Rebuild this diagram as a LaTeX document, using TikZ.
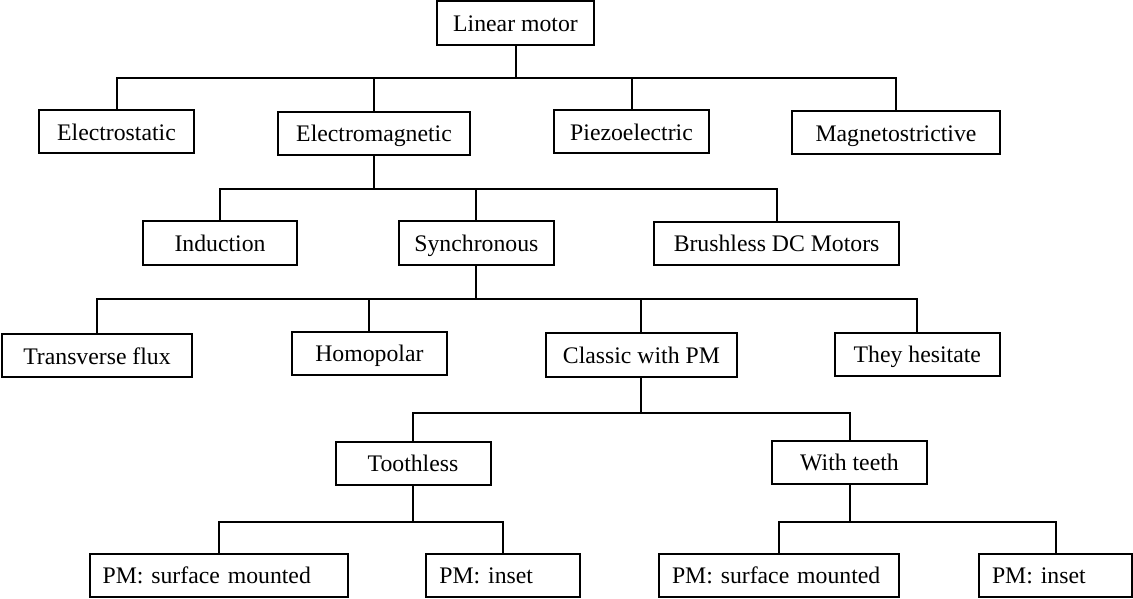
\documentclass[tikz,border=0pt]{standalone}
\usepackage{fontspec}
\setmainfont{Liberation Serif}
\usepackage{tikz}
\usetikzlibrary{calc}

\begin{document}
\begin{tikzpicture}[x=0.75pt,y=-0.75pt,line width=1.5pt,
  box/.style={draw,minimum width=#1*0.75pt,minimum height=32.3pt,inner sep=0pt,
    text height=15pt,text depth=2pt,font=\fontsize{17.8}{20}\selectfont},
  pmbox/.style={box=#1,align=left}]
\useasboundingbox (0,0) rectangle (1133,599);
\coordinate (B1) at (0,78);
\coordinate (B2) at (0,189);
\coordinate (B3) at (0,299);
\coordinate (B4) at (0,412.7);
\coordinate (B5) at (0,521.7);
% boxes
\node[box=157] (lin) at (515.5,23) {Linear motor};
\node[box=155] (estat) at (116.5,131.5) {Electrostatic};
\node[box=192] (emag) at (374,133.3) {Electromagnetic};
\node[box=155] (piezo) at (631.5,131.5) {Piezoelectric};
\node[box=208] (mstr) at (896,132.5) {Magnetostrictive};
\node[box=154.5] (ind) at (220,243) {Induction};
\node[box=155.6] (sync) at (476.4,243) {Synchronous};
\node[box=244.5] (bldc) at (776.6,243.3) {Brushless DC Motors};
\node[box=190.6] (tflux) at (97,355.7) {Transverse flux};
\node[box=155.3] (homo) at (369.4,353.3) {Homopolar};
\node[box=191] (cpm) at (641.4,355) {Classic with PM};
\node[box=164.6] (hes) at (917.3,354.2) {They hesitate};
\node[box=155] (tless) at (413,463.3) {Toothless};
\node[box=155] (teeth) at (849.5,462.3) {With teeth};
\node[pmbox=258,text width=174pt] (sm1) at (218.6,575.3) {PM: surface mounted};
\node[pmbox=154,text width=96pt] (in1) at (503.4,575.3) {PM: inset};
\node[pmbox=240,text width=160.5pt] (sm2) at (779,575.3) {PM: surface mounted};
\node[pmbox=153,text width=95.2pt] (in2) at (1055.5,575.3) {PM: inset};
% level 1
\draw (lin.south) -- (lin.south |- B1);
\draw (estat.north) -- (estat.north |- B1) -- (mstr.north |- B1) -- (mstr.north);
\draw (emag.north) -- (emag.north |- B1);
\draw (piezo.north) -- (piezo.north |- B1);
% level 2
\draw (emag.south) -- (emag.south |- B2);
\draw (ind.north) -- (ind.north |- B2) -- (bldc.north |- B2) -- (bldc.north);
\draw (sync.north) -- (sync.north |- B2);
% level 3
\draw (sync.south) -- (sync.south |- B3);
\draw (tflux.north) -- (tflux.north |- B3) -- (hes.north |- B3) -- (hes.north);
\draw (homo.north) -- (homo.north |- B3);
\draw (cpm.north) -- (cpm.north |- B3);
% level 4
\draw (cpm.south) -- (cpm.south |- B4);
\draw (tless.north) -- (tless.north |- B4) -- (teeth.north |- B4) -- (teeth.north);
% level 5
\draw (tless.south) -- (tless.south |- B5);
\draw (sm1.north) -- (sm1.north |- B5) -- (in1.north |- B5) -- (in1.north);
\draw (teeth.south) -- (teeth.south |- B5);
\draw (sm2.north) -- (sm2.north |- B5) -- (in2.north |- B5) -- (in2.north);
\end{tikzpicture}
\end{document}
